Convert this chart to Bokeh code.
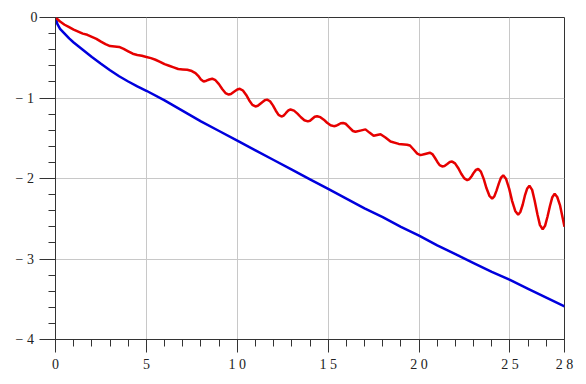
from bokeh.plotting import figure
from bokeh.models import FixedTicker, Range1d
from bokeh.embed import file_html
from bokeh.resources import INLINE

# ---- data ----
blue_x = [0, 0.1, 0.25, 0.5, 0.75, 1, 1.5, 2, 2.5, 3, 3.5, 4, 4.5, 5, 6, 7, 8, 9, 10,
          11, 12, 13, 14, 15, 16, 17, 18, 19, 20, 21, 22, 23, 24, 25, 26, 27, 28]
blue_y = [0.0, -0.08, -0.14, -0.20, -0.26, -0.31, -0.40, -0.49, -0.575, -0.655, -0.73,
          -0.795, -0.855, -0.91, -1.03, -1.16, -1.29, -1.41, -1.53, -1.65, -1.77, -1.89,
          -2.01, -2.13, -2.25, -2.37, -2.48, -2.60, -2.71, -2.83, -2.94, -3.05, -3.16,
          -3.26, -3.37, -3.48, -3.59]

red_x = [0.0, 0.25, 0.5, 0.75, 1.0, 1.25, 1.5, 1.75, 2.0, 2.25, 2.5, 2.75, 3.0, 3.25,
         3.5, 3.75, 4.0, 4.25, 4.5, 4.75, 5.0, 5.25, 5.5, 5.75, 6.0, 6.25, 6.5, 6.75,
         7.0, 7.25, 7.5, 7.7, 7.85, 8.0, 8.15, 8.3, 8.46, 8.62, 8.8, 8.99, 9.17, 9.35,
         9.53, 9.65, 9.84, 10.0, 10.14, 10.31, 10.49, 10.66, 10.83, 11.0, 11.13, 11.32,
         11.51, 11.64, 11.8, 11.96, 12.12, 12.27, 12.43, 12.55, 12.68, 12.81, 12.93,
         13.12, 13.31, 13.5, 13.69, 13.88, 14.0, 14.13, 14.26, 14.39, 14.57, 14.76,
         14.94, 15.13, 15.31, 15.44, 15.56, 15.69, 15.82, 15.96, 16.16, 16.36, 16.5,
         16.77, 17.05, 17.27, 17.5, 17.69, 17.88, 18.15, 18.43, 18.88, 19.34, 19.5,
         19.7, 19.9, 20.08, 20.33, 20.59, 20.73, 20.86, 21.0, 21.13, 21.27, 21.4, 21.55,
         21.69, 21.82, 21.98, 22.15, 22.32, 22.49, 22.65, 22.77, 22.89, 23.01, 23.13,
         23.25, 23.4, 23.56, 23.71, 23.87, 24.02, 24.14, 24.26, 24.39, 24.51, 24.63,
         24.79, 24.96, 25.12, 25.29, 25.45, 25.57, 25.7, 25.82, 25.95, 26.07, 26.22,
         26.36, 26.51, 26.65, 26.8, 26.93, 27.06, 27.2, 27.33, 27.46, 27.6, 27.75,
         27.9, 28.0]
red_y = [0.0, -0.05, -0.09, -0.12, -0.15, -0.175, -0.20, -0.215, -0.24, -0.265, -0.30,
         -0.33, -0.355, -0.36, -0.365, -0.39, -0.42, -0.45, -0.465, -0.475, -0.49,
         -0.505, -0.525, -0.55, -0.58, -0.60, -0.62, -0.64, -0.645, -0.65, -0.665,
         -0.69, -0.725, -0.77, -0.795, -0.785, -0.77, -0.76, -0.779, -0.828, -0.889,
         -0.938, -0.957, -0.95, -0.92, -0.895, -0.886, -0.907, -0.962, -1.03, -1.085,
         -1.105, -1.097, -1.062, -1.028, -1.02, -1.04, -1.092, -1.158, -1.21, -1.23,
         -1.218, -1.186, -1.155, -1.143, -1.157, -1.194, -1.239, -1.276, -1.29, -1.283,
         -1.258, -1.233, -1.226, -1.238, -1.269, -1.307, -1.338, -1.35, -1.345, -1.33,
         -1.314, -1.31, -1.32, -1.365, -1.41, -1.42, -1.405, -1.39, -1.43, -1.47, -1.46,
         -1.45, -1.49, -1.54, -1.57, -1.58, -1.59, -1.64, -1.69, -1.71, -1.695, -1.68,
         -1.696, -1.739, -1.791, -1.834, -1.85, -1.844, -1.82, -1.796, -1.79, -1.812,
         -1.869, -1.941, -1.998, -2.02, -2.007, -1.972, -1.928, -1.893, -1.88, -1.915,
         -2.008, -2.122, -2.215, -2.25, -2.222, -2.15, -2.06, -1.988, -1.96, -2.007,
         -2.129, -2.281, -2.403, -2.45, -2.416, -2.326, -2.214, -2.124, -2.09, -2.141,
         -2.276, -2.444, -2.579, -2.63, -2.588, -2.478, -2.342, -2.232, -2.19, -2.23,
         -2.33, -2.49, -2.60]

x_ticks = [0, 5, 10, 15, 20, 25, 28]
x_tick_labels = ["0", "5", "1 0", "1 5", "2 0", "2 5", "2 8"]
x_minor = list(range(0, 29))
y_ticks = [0, -1, -2, -3, -4]
y_tick_labels = ["0", "\u2212  1", "\u2212  2", "\u2212  3", "\u2212  4"]
y_minor = [round(-0.2 * i, 2) for i in range(0, 21)]

FONT = "Liberation Serif"
AX = "#333333"

p = figure(frame_width=509, frame_height=322, output_backend="svg", toolbar_location=None,
           x_range=Range1d(0, 28), y_range=Range1d(-4, 0),
           min_border_left=55, min_border_right=14, min_border_top=17, min_border_bottom=37)
p.background_fill_color = "white"
p.border_fill_color = "white"
p.outline_line_color = AX
p.outline_line_width = 1

p.xaxis.ticker = FixedTicker(ticks=x_ticks, minor_ticks=x_minor)
p.yaxis.ticker = FixedTicker(ticks=y_ticks, minor_ticks=y_minor)
p.xaxis.major_label_overrides = dict(zip(x_ticks, x_tick_labels))
p.yaxis.major_label_overrides = dict(zip(y_ticks, y_tick_labels))

for ax in (p.xaxis[0], p.yaxis[0]):
    ax.axis_line_color = AX
    ax.major_tick_line_color = AX
    ax.minor_tick_line_color = AX
    ax.major_tick_in = 0
    ax.minor_tick_in = 0
    ax.minor_tick_out = 7
    ax.major_label_text_font = FONT
    ax.major_label_text_font_size = "14px"
    ax.major_label_text_color = "#222222"

p.yaxis.major_tick_out = 16
p.yaxis.major_label_standoff = 2
p.xaxis.major_tick_out = 13
p.xaxis.major_label_standoff = 4

p.xgrid.grid_line_color = "#c8c8c8"
p.ygrid.grid_line_color = "#c8c8c8"
p.xgrid.grid_line_width = 1
p.ygrid.grid_line_width = 1

p.line(blue_x, blue_y, line_color="#0000dd", line_width=2.5)
p.line(red_x, red_y, line_color="#e60000", line_width=2.5)

open("out.html", "w").write(file_html(p, INLINE))
